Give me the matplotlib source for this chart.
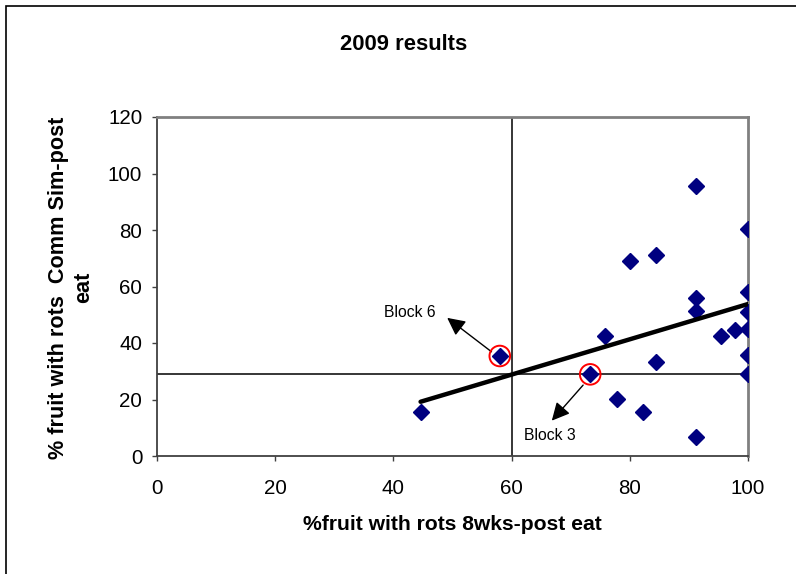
import numpy as np
import matplotlib
matplotlib.use("Agg")
import matplotlib.pyplot as plt

plt.rcParams['font.family'] = ['Liberation Sans', 'DejaVu Sans']

# % fruit with rots, 8wks-post eat (x) vs Comm Sim-post eat (y)
rots_8wks = [44.6, 58.0, 73.3, 75.8, 77.9, 80.0, 82.3, 84.4, 84.4,
             91.2, 91.2, 91.2, 91.2, 95.5, 97.8,
             100, 100, 100, 100, 100, 100]
rots_comm = [15.5, 35.4, 28.9, 42.5, 20.2, 69.1, 15.7, 71.2, 33.4,
             95.7, 56.0, 51.3, 6.8, 42.5, 44.6,
             80.4, 57.9, 51.0, 44.8, 35.8, 28.9]

# linear trendline end points as drawn in the original
trend_x = [44.6, 100]
trend_y = [19.2, 53.8]

# highlighted blocks
block_names = ['Block 6', 'Block 3']
block_x = [58.0, 73.3]
block_y = [35.4, 28.9]

# reference lines
ref_x = 60
ref_y = 29

fig = plt.figure(figsize=(7.96, 5.74), dpi=100)
ax = fig.add_axes([157/796, 1-456/574, 591/796, 339/574])

# outer chart border (cut off at right/bottom like the original)
fig.patches.append(plt.Rectangle((5.5/796, -0.05), 1.2, 1-5.5/574+0.05,
                                 transform=fig.transFigure, fill=False,
                                 edgecolor='black', linewidth=1.2))

ax.axvline(ref_x, color='black', lw=1.1, zorder=1)
ax.axhline(ref_y, color='black', lw=1.1, zorder=1)

ax.plot(rots_8wks, rots_comm, linestyle='none', marker='D', markersize=8,
        color='#000080', zorder=3)

ax.plot(trend_x, trend_y, color='black', lw=3.2, solid_capstyle='round', zorder=4)

ax.scatter(block_x, block_y, s=220, facecolors='none', edgecolors='red',
           linewidths=1.4, zorder=5)

arrow = dict(arrowstyle='-|>,head_length=0.6,head_width=0.3', mutation_scale=18,
             lw=1, color='black', shrinkA=0, shrinkB=0)
ax.text(42.8, 49.3, block_names[0], ha='center', va='baseline', fontsize=11.3)
ax.annotate('', xy=(49.1, 48.9), xytext=(56.6, 36.9), arrowprops=arrow)
ax.text(66.5, 5.8, block_names[1], ha='center', va='baseline', fontsize=11.3)
ax.annotate('', xy=(66.8, 12.5), xytext=(72.1, 25.1), arrowprops=arrow)

ax.set_xlim(0, 100)
ax.set_ylim(0, 120)
ax.set_xticks(range(0, 101, 20))
ax.set_yticks(range(0, 121, 20))
ax.tick_params(direction='out', length=3.6, width=1, colors='#404040',
               labelcolor='black', labelsize=14.8)
ax.tick_params(axis='x', pad=13)
ax.tick_params(axis='y', pad=7)

for side in ['left', 'bottom']:
    ax.spines[side].set_color('#404040')
    ax.spines[side].set_linewidth(1.3)
for side in ['top', 'right']:
    ax.spines[side].set_color('#808080')
    ax.spines[side].set_linewidth(2)

ax.set_xlabel('%fruit with rots 8wks-post eat', fontsize=15.2, fontweight='bold')
ax.xaxis.label.set_va('center')
ax.xaxis.set_label_coords(0.5, (456-524)/339)
ax.set_ylabel('% fruit with rots  Comm Sim-post\neat', fontsize=15.6,
              fontweight='bold', linespacing=1.25)
ax.yaxis.label.set_va('center')
ax.yaxis.set_label_coords((71.5-157)/591, (456-287.5)/339)

fig.text(403.4/796, 1-45/574, '2009 results', ha='center', va='center',
         fontsize=15.8, fontweight='bold')

fig.savefig('out.png', dpi=100)
